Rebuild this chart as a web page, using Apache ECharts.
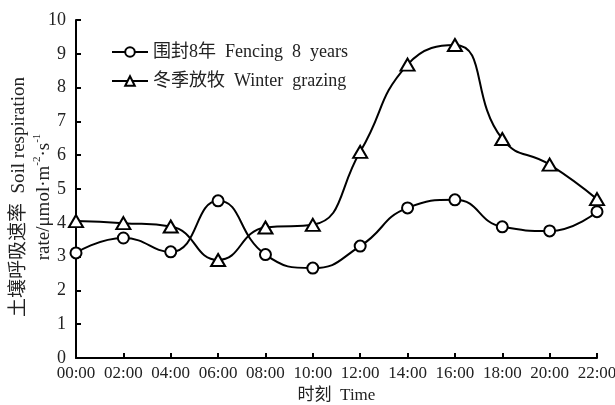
<!DOCTYPE html>
<html>
<head>
<meta charset="utf-8">
<script src="https://cdn.jsdelivr.net/npm/echarts@6/dist/echarts.min.js"></script>
<style>html,body{margin:0;padding:0;background:#fff}#c{width:615px;height:405px}</style>
</head>
<body>
<div id="c"></div>
<script>
// Diurnal soil respiration under two grassland managements
const times = ['00:00','02:00','04:00','06:00','08:00','10:00','12:00','14:00','16:00','18:00','20:00','22:00'];
const fencing = [3.11, 3.55, 3.14, 4.65, 3.06, 2.66, 3.31, 4.44, 4.68, 3.88, 3.76, 4.33];
const winterGrazing = [4.05, 3.99, 3.89, 2.9, 3.86, 3.94, 6.1, 8.68, 9.26, 6.48, 5.72, 4.7];
const yTicks = [0, 1, 2, 3, 4, 5, 6, 7, 8, 9, 10];
const yTitle = '{a|土壤呼吸速率  Soil respiration}\n{a|rate/μmol·m}{s|-2}{a|·s}{s|-1}';

const serif = '"Liberation Serif","Times New Roman","Noto Sans CJK SC",serif';
const chart = echarts.init(document.getElementById('c'), null, {renderer: 'canvas'});

chart.setOption({
  animation: false,
  backgroundColor: '#fff',
  textStyle: {fontFamily: serif, color: '#111'},
  grid: {left: 76, right: 18, top: 20, bottom: 47, containLabel: false, outerBoundsMode: 'none'},
  legend: {
    orient: 'vertical',
    left: 106,
    top: 38,
    itemGap: 11,
    itemWidth: 36,
    itemHeight: 12,
    textStyle: {fontFamily: serif, fontSize: 18, color: '#222'},
    data: [
      {name: '围封8年  Fencing  8  years'},
      {name: '冬季放牧  Winter  grazing'}
    ]
  },
  // rotated two-line title for the value axis
  graphic: [{
    type: 'text',
    x: 32,
    y: 197,
    rotation: Math.PI / 2,
    style: {
      text: yTitle,
      align: 'center',
      verticalAlign: 'middle',
      rich: {
        a: {fontFamily: serif, fontSize: 19, fill: '#222', lineHeight: 25},
        s: {fontFamily: serif, fontSize: 11, fill: '#222', verticalAlign: 'top', lineHeight: 25, padding: [0, 0, 2, 0]}
      }
    }
  }],
  xAxis: {
    type: 'category',
    data: times,
    boundaryGap: false,
    axisLine: {lineStyle: {color: '#000', width: 2}},
    axisTick: {inside: true, length: 5, lineStyle: {color: '#000', width: 2}, alignWithLabel: true},
    axisLabel: {fontFamily: serif, fontSize: 17, color: '#222', margin: 7, interval: 0},
    splitLine: {show: false},
    name: '时刻  Time',
    nameLocation: 'middle',
    nameGap: 29,
    nameTextStyle: {fontFamily: serif, fontSize: 17, color: '#222'}
  },
  yAxis: {
    type: 'value',
    min: yTicks[0],
    max: yTicks[yTicks.length - 1],
    interval: 1,
    axisLine: {show: true, lineStyle: {color: '#000', width: 2}},
    axisTick: {show: true, inside: true, length: 5, lineStyle: {color: '#000', width: 2}},
    axisLabel: {fontFamily: serif, fontSize: 18, color: '#222', margin: 10},
    splitLine: {show: false}
  },
  series: [
    {
      name: '围封8年  Fencing  8  years',
      type: 'line',
      data: fencing,
      smooth: 0.5,
      symbol: 'circle',
      symbolSize: 11,
      lineStyle: {color: '#000', width: 2},
      itemStyle: {color: '#fff', borderColor: '#000', borderWidth: 2},
      z: 3
    },
    {
      name: '冬季放牧  Winter  grazing',
      type: 'line',
      data: winterGrazing,
      smooth: 0.5,
      symbol: 'triangle',
      symbolSize: [14, 12],
      lineStyle: {color: '#000', width: 2},
      itemStyle: {color: '#fff', borderColor: '#000', borderWidth: 2},
      z: 3
    }
  ]
});
</script>
</body>
</html>
